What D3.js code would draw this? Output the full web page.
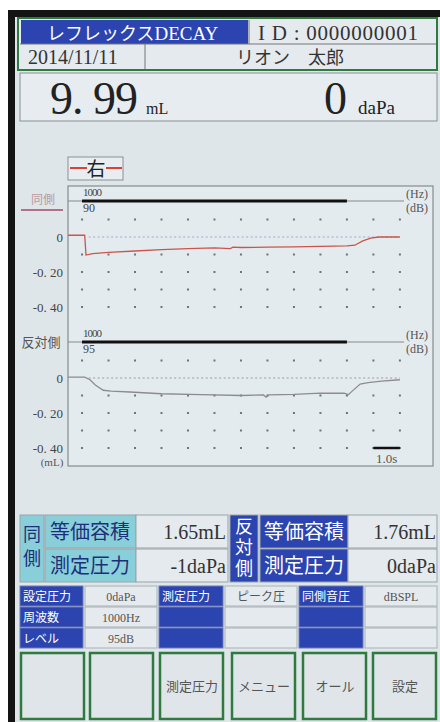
<!DOCTYPE html>
<html>
<head>
<meta charset="utf-8">
<script src="https://cdn.jsdelivr.net/npm/d3@7"></script>
<style>
  body { margin: 0; background: #fff; }
  svg { display: block; }
</style>
</head>
<body>
<svg id="screen"></svg>
<script>
const JP = '"Noto Sans CJK JP", sans-serif';
const SERIF = '"Liberation Serif", "DejaVu Serif", serif';

// ---- data ----
const gridTimes = [0, 1, 2, 3, 4, 5, 6, 7, 8, 9, 10, 11, 12];
const gridRows = [0.1, -0.1, -0.2, -0.3, -0.4];
const yTickValues = [0, -0.2, -0.4];
const yTickLabels = ['0', '-0. 20', '-0. 40'];
const stimulus = [0, 10];
const stimFreq = ['1000', '1000'];
const stimLevel = ['90', '95'];

const ipsiTime = [-0.53, 0.1, 0.15, 0.4, 1, 2, 3, 4, 5, 5.6, 5.7, 6, 7, 8, 9, 10, 10.3, 10.6, 10.9, 11.2, 12];
const ipsiVolume = [0.01, 0.01, -0.103, -0.095, -0.088, -0.08, -0.072, -0.066, -0.062, -0.066, -0.058, -0.06, -0.058, -0.057, -0.054, -0.051, -0.047, -0.022, -0.006, 0, 0];

const contraTime = [-0.53, 0.1, 0.3, 0.5, 0.8, 1.1, 1.8, 3, 4.5, 6, 6.85, 6.95, 7.05, 8, 9, 9.9, 10.05, 10.2, 10.5, 10.8, 11.3, 12];
const contraVolume = [0.005, 0.005, -0.01, -0.04, -0.07, -0.075, -0.08, -0.09, -0.095, -0.1, -0.097, -0.11, -0.097, -0.094, -0.087, -0.086, -0.095, -0.075, -0.035, -0.027, -0.018, -0.01];

const resultLabels = ['等価容積', '測定圧力'];
const ipsiResults = ['1.65mL', '-1daPa'];
const contraResults = ['1.76mL', '0daPa'];

const settingCols = [
  ['設定圧力', '周波数', 'レベル'],
  ['0daPa', '1000Hz', '95dB'],
  ['測定圧力', '', ''],
  ['ピーク圧', '', ''],
  ['同側音圧', '', ''],
  ['dBSPL', '', '']
];
const buttonLabels = ['', '', '測定圧力', 'メニュー', 'オール', '設定'];

// ---- colours ----
const BLUE = '#2b44b0', CYAN = '#88cfd9', CELL = '#e4eaee', BG = '#dfe6ea', GREEN = '#2f7a3e';

const svg = d3.select('#screen').attr('width', 440).attr('height', 722);

// bezel + screen
svg.append('rect').attr('x', 8).attr('y', 10).attr('width', 432).attr('height', 712).attr('fill', '#141414');
svg.append('rect').attr('x', 15).attr('y', 17).attr('width', 425).attr('height', 705).attr('fill', BG);

function txt(g, x, y, s, o = {}) {
  return g.append('text').attr('x', x).attr('y', y).text(s)
    .attr('font-family', o.font || JP).attr('font-size', o.size || 12)
    .attr('fill', o.fill || '#333').attr('text-anchor', o.anchor || 'start')
    .attr('dominant-baseline', o.base || 'auto');
}

// ---- header ----
const head = svg.append('g');
head.append('rect').attr('x', 18).attr('y', 18).attr('width', 419).attr('height', 52)
  .attr('fill', CELL).attr('stroke', GREEN).attr('stroke-width', 2);
head.append('rect').attr('x', 21).attr('y', 20).attr('width', 227).attr('height', 24).attr('fill', BLUE);
head.append('line').attr('x1', 249).attr('x2', 249).attr('y1', 20).attr('y2', 44).attr('stroke', '#777');
head.append('line').attr('x1', 20).attr('x2', 436).attr('y1', 44).attr('y2', 44).attr('stroke', '#777');
head.append('line').attr('x1', 145).attr('x2', 145).attr('y1', 44).attr('y2', 69).attr('stroke', '#777');
const t1 = txt(head, 47, 40, '', { size: 18, fill: '#fff' });
t1.append('tspan').text('レフレックス');
t1.append('tspan').attr('font-family', SERIF).attr('font-size', 19).text('DECAY');
txt(head, 258, 40, 'I D : 0000000001', { font: SERIF, size: 21, fill: '#333' }).attr('textLength', 160);
txt(head, 28, 64, '2014/11/11', { font: SERIF, size: 20, fill: '#333' });
txt(head, 290, 64, 'リオン　太郎', { size: 18, fill: '#333', anchor: 'middle' });

// ---- measured values ----
svg.append('rect').attr('x', 20).attr('y', 73).attr('width', 417).attr('height', 48)
  .attr('fill', '#e6ecef').attr('stroke', '#8a9094');
txt(svg, 50, 114, '9. 99', { font: SERIF, size: 46, fill: '#222' }).attr('textLength', 88);
txt(svg, 146, 114, 'mL', { font: SERIF, size: 16, fill: '#222' });
txt(svg, 324, 114, '0', { font: SERIF, size: 46, fill: '#222' });
txt(svg, 358, 114, 'daPa', { font: SERIF, size: 19, fill: '#222' });

// ---- ear tag ----
svg.append('rect').attr('x', 68).attr('y', 157).attr('width', 55).attr('height', 23)
  .attr('fill', '#e8eef0').attr('stroke', '#8a8f94');
svg.append('line').attr('x1', 70).attr('x2', 87).attr('y1', 168).attr('y2', 168).attr('stroke', '#d8433a').attr('stroke-width', 2);
svg.append('line').attr('x1', 106).attr('x2', 122).attr('y1', 168).attr('y2', 168).attr('stroke', '#d8433a').attr('stroke-width', 2);
txt(svg, 96, 176, '右', { size: 19, fill: '#222', anchor: 'middle' });

// ---- decay plots ----
const x = d3.scaleLinear().domain([-0.53, 13.25]).range([68, 433]);
svg.append('rect').attr('x', 68).attr('y', 186).attr('width', 365).attr('height', 280)
  .attr('fill', '#e4ebee').attr('stroke', '#858b90').attr('stroke-width', 1.2);

function panel(i, zeroY, barY, times, vols, color, dashColor) {
  const y = d3.scaleLinear().domain([0, -0.4]).range([zeroY, zeroY + 70]);
  const g = svg.append('g');

  // stimulus bar
  g.append('line').attr('x1', 68).attr('x2', 404).attr('y1', barY).attr('y2', barY).attr('stroke', '#888');
  g.append('line').attr('x1', x(stimulus[0])).attr('x2', x(stimulus[1])).attr('y1', barY).attr('y2', barY)
    .attr('stroke', '#111').attr('stroke-width', 3);
  txt(g, 83, barY - 5, stimFreq[i], { font: SERIF, size: 11, fill: '#444' }).attr('textLength', 19);
  txt(g, 83, barY + 11, stimLevel[i], { font: SERIF, size: 12, fill: '#444' });
  txt(g, 406, barY - 3, '(Hz)', { font: SERIF, size: 12, fill: '#555' });
  txt(g, 406, barY + 11, '(dB)', { font: SERIF, size: 12, fill: '#555' });

  // dot grid
  const dots = gridRows.flatMap(r => gridTimes.map(t => [t, r]));
  g.selectAll('rect.dot').data(dots).join('rect').attr('class', 'dot')
    .attr('x', d => x(d[0]) - 1).attr('y', d => y(d[1]) - 1)
    .attr('width', 2).attr('height', 2).attr('fill', '#6f7478');

  // zero line
  g.append('line').attr('x1', x(0.25)).attr('x2', x(12)).attr('y1', y(0)).attr('y2', y(0))
    .attr('stroke', dashColor).attr('stroke-width', 1.2).attr('stroke-dasharray', '2,2.5');

  // y labels
  yTickValues.forEach((v, k) => txt(g, 63, y(v) + 5, yTickLabels[k], { font: SERIF, size: 13, fill: '#444', anchor: 'end' }));

  // trace
  g.append('path').datum(d3.zip(times, vols))
    .attr('d', d3.line().x(d => x(d[0])).y(d => y(d[1])))
    .attr('fill', 'none').attr('stroke', color).attr('stroke-width', 1.3);
  return y;
}

panel(0, 237, 201, ipsiTime, ipsiVolume, '#c9564c', '#a4a8c8');
const yb = panel(1, 378, 342, contraTime, contraVolume, '#8d8b92', '#9a9aa4');

// side labels
txt(svg, 43, 204, '同側', { size: 12, fill: '#b89aa0', anchor: 'middle' });
svg.append('line').attr('x1', 21).attr('x2', 63).attr('y1', 210).attr('y2', 210).attr('stroke', '#b0708f').attr('stroke-width', 2);
txt(svg, 41, 347, '反対側', { size: 13, fill: '#555', anchor: 'middle' });
txt(svg, 52, 466, '(mL)', { font: SERIF, size: 11, fill: '#555', anchor: 'middle' });

// time scale bar
svg.append('line').attr('x1', x(11)).attr('x2', x(12)).attr('y1', yb(-0.4)).attr('y2', yb(-0.4))
  .attr('stroke', '#111').attr('stroke-width', 2.5);
txt(svg, x(11.5), 463, '1.0s', { font: SERIF, size: 13, fill: '#555', anchor: 'middle' });

// ---- results table ----
const res = svg.append('g');
function cell(g, x0, y0, w, h, fill, stroke = '#9aa3a8') {
  return g.append('rect').attr('x', x0).attr('y', y0).attr('width', w).attr('height', h)
    .attr('fill', fill).attr('stroke', stroke).attr('stroke-width', 1);
}
// vertical side captions, one text each
function vtext(g, cx, cy, s, size, fill, spacing) {
  return g.append('text').attr('x', cx).attr('y', cy).text(s)
    .attr('writing-mode', 'vertical-rl').attr('text-anchor', 'middle')
    .attr('font-family', JP).attr('font-size', size).attr('fill', fill)
    .attr('letter-spacing', spacing);
}
cell(res, 20, 515, 24, 67, CYAN);
vtext(res, 32, 549, '同側', 18, '#1e2f7a', 6);
cell(res, 230, 515, 28, 67, BLUE);
vtext(res, 244, 549, '反対側', 18, '#fff', 3);
resultLabels.forEach((lab, k) => {
  const y0 = 515 + k * 34;
  cell(res, 45, y0, 91, 33, CYAN);
  txt(res, 90, y0 + 24, lab, { size: 20, fill: '#1e2f7a', anchor: 'middle' });
  cell(res, 136, y0, 92, 33, CELL);
  txt(res, 226, y0 + 24, ipsiResults[k], { font: SERIF, size: 20, fill: '#333', anchor: 'end' });
  cell(res, 260, y0, 88, 33, BLUE);
  txt(res, 304, y0 + 24, lab, { size: 20, fill: '#fff', anchor: 'middle' });
  cell(res, 348, y0, 89, 33, CELL);
  txt(res, 436, y0 + 24, contraResults[k], { font: SERIF, size: 20, fill: '#333', anchor: 'end' });
});

// ---- settings table ----
const colX = [20, 85, 159, 225, 299, 365];
const colW = [63, 72, 64, 72, 64, 72];
const set = svg.append('g');
settingCols.forEach((col, c) => {
  const blue = c % 2 === 0;
  col.forEach((s, r) => {
    const y0 = 586 + r * 21;
    cell(set, colX[c], y0, colW[c], 20, blue ? BLUE : CELL, blue ? '#6a78b8' : '#aab2b6');
    const o = blue ? { size: 12, fill: '#fff' } : { size: 12, fill: '#555', anchor: 'middle' };
    if (!blue && /^[0-9dB]/.test(s)) o.font = SERIF;
    txt(set, blue ? colX[c] + 3 : colX[c] + colW[c] / 2, y0 + 15, s, o);
  });
});

// ---- soft keys ----
const keyX = [20, 89, 159, 231, 302, 372];
buttonLabels.forEach((s, k) => {
  svg.append('rect').attr('x', keyX[k] + 1).attr('y', 653).attr('width', 63).attr('height', 66)
    .attr('fill', '#dfe5e9').attr('stroke', GREEN).attr('stroke-width', 2.5);
  txt(svg, keyX[k] + 33, 691, s, { size: 13, fill: '#555', anchor: 'middle' });
});
</script>
</body>
</html>
